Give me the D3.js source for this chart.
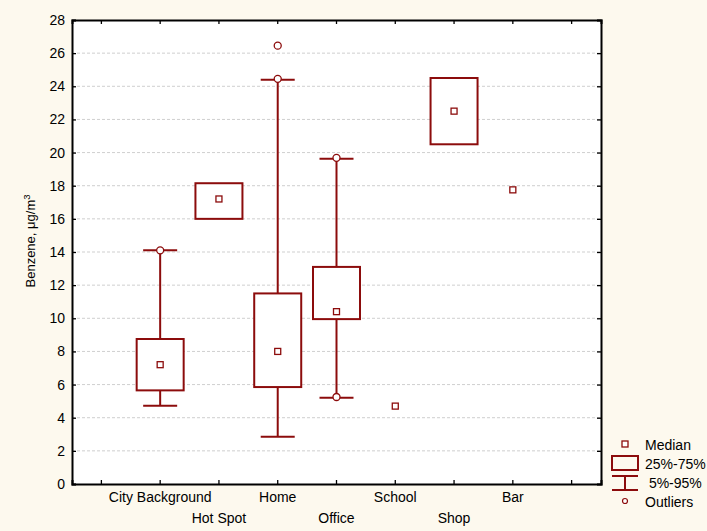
<!DOCTYPE html>
<html>
<head>
<meta charset="utf-8">
<script src="https://cdn.jsdelivr.net/npm/d3@7"></script>
<style>
  body { margin: 0; background: #fdf9ee; }
  text { font-family: "Liberation Sans", Arial, sans-serif; fill: #000; }
</style>
</head>
<body>
<svg id="chart" width="707" height="531"></svg>
<script>
// values
var categories = ["City Background", "Hot Spot", "Home", "Office", "School", "Shop", "Bar"];
var medians = [7.2, 17.2, 8.0, 10.4, 4.7, 22.5, 17.75];
var q25 = [5.65, 16.0, 5.85, 9.95, null, 20.5, null];
var q75 = [8.75, 18.15, 11.5, 13.1, null, 24.5, null];
var p05 = [4.72, null, 2.85, 5.2, null, null, null];
var p95 = [14.1, null, 24.4, 19.62, null, null, null];
var outliers = [[14.1], [], [26.45, 24.45], [19.68, 5.25], [], [], []];
var yTicks = [0, 2, 4, 6, 8, 10, 12, 14, 16, 18, 20, 22, 24, 26, 28];
var legendItems = ["Median", "25%-75%", " 5%-95%", "Outliers"];

var red = "#8c0c0c";
var margin = { top: 20, right: 106, bottom: 47, left: 72 },
  width = 707 - margin.left - margin.right,
  height = 531 - margin.top - margin.bottom;

var svg = d3.select("#chart");
var g = svg.append("g").attr("transform", "translate(" + margin.left + "," + margin.top + ")");

g.append("rect").attr("width", width).attr("height", height).attr("fill", "#fff");

// 9 slots: empty one on each side of the categories
var x = d3.scaleBand().domain(d3.range(categories.length + 2)).range([0, width]);
var y = d3.scaleLinear().domain([0, 28]).range([height, 0]);
function cx(i) { return x(i + 1) + x.bandwidth() / 2; }

// grid
g.selectAll(".grid").data(yTicks.slice(1, -1)).enter().append("line")
  .attr("x1", 0).attr("x2", width)
  .attr("y1", function(d) { return y(d); }).attr("y2", function(d) { return y(d); })
  .attr("stroke", "#cfcfcf").attr("stroke-dasharray", "3,2");

// axes, ticks inside
var yAxis = g.append("g").call(d3.axisLeft(y).tickValues(yTicks).tickSize(-4).tickPadding(7));
yAxis.selectAll("text").style("font-size", "14px");
g.append("g").attr("transform", "translate(" + width + ",0)")
  .call(d3.axisRight(y).tickValues(yTicks).tickSize(-4).tickFormat(""));
var xAxis = g.append("g").attr("transform", "translate(0," + height + ")")
  .call(d3.axisBottom(x).tickSize(-4).tickFormat(function(d) { return (d >= 1 && d <= categories.length) ? categories[d - 1] : ""; }));
xAxis.selectAll("text").style("font-size", "14px")
  .attr("dy", function(d) { return (d % 2 === 0) ? "2.2em" : "0.72em"; })
  .attr("y", 8);
g.append("g").call(d3.axisTop(x).tickSize(-4).tickFormat(""));
g.selectAll(".domain").attr("stroke", "#000").attr("stroke-width", 2);
g.selectAll(".tick line").attr("stroke", "#000").attr("stroke-width", 1.3);

// whiskers
var capW = 34, boxW = 47;
categories.forEach(function(c, i) {
  if (p05[i] === null) return;
  var lo = q25[i] !== null ? q25[i] : medians[i];
  var hi = q75[i] !== null ? q75[i] : medians[i];
  g.append("line").attr("x1", cx(i)).attr("x2", cx(i)).attr("y1", y(p05[i])).attr("y2", y(lo))
    .attr("stroke", red).attr("stroke-width", 2);
  g.append("line").attr("x1", cx(i)).attr("x2", cx(i)).attr("y1", y(p95[i])).attr("y2", y(hi))
    .attr("stroke", red).attr("stroke-width", 2);
  [p05[i], p95[i]].forEach(function(v) {
    g.append("line").attr("x1", cx(i) - capW / 2).attr("x2", cx(i) + capW / 2)
      .attr("y1", y(v)).attr("y2", y(v)).attr("stroke", red).attr("stroke-width", 2);
  });
});

// boxes
categories.forEach(function(c, i) {
  if (q25[i] === null) return;
  g.append("rect").attr("x", cx(i) - boxW / 2).attr("y", y(q75[i]))
    .attr("width", boxW).attr("height", y(q25[i]) - y(q75[i]))
    .attr("fill", "#fff").attr("stroke", red).attr("stroke-width", 2);
});

// medians
g.selectAll(".med").data(medians).enter().append("rect")
  .attr("x", function(d, i) { return cx(i) - 3; })
  .attr("y", function(d) { return y(d) - 3; })
  .attr("width", 6).attr("height", 6)
  .attr("fill", "#fff").attr("stroke", red).attr("stroke-width", 1.3);

// outliers
categories.forEach(function(c, i) {
  outliers[i].forEach(function(v) {
    g.append("circle").attr("cx", cx(i)).attr("cy", y(v)).attr("r", 3.5)
      .attr("fill", "#fff").attr("stroke", red).attr("stroke-width", 1.3);
  });
});

// y label
svg.append("text")
  .attr("transform", "translate(35,241) rotate(-90)")
  .attr("text-anchor", "middle")
  .style("font-size", "13px")
  .text("Benzene, μg/m")
  .append("tspan").attr("dy", "-0.55em").style("font-size", "9.5px").text("3");

// legend
var lg = svg.append("g").attr("transform", "translate(625,0)");
lg.append("rect").attr("x", -3).attr("y", 441).attr("width", 6).attr("height", 6)
  .attr("fill", "#fff").attr("stroke", red).attr("stroke-width", 1.3);
lg.append("rect").attr("x", -13).attr("y", 456).attr("width", 26).attr("height", 14)
  .attr("fill", "none").attr("stroke", red).attr("stroke-width", 2);
lg.append("line").attr("x1", -13).attr("x2", 13).attr("y1", 476).attr("y2", 476).attr("stroke", red).attr("stroke-width", 2);
lg.append("line").attr("x1", -13).attr("x2", 13).attr("y1", 490).attr("y2", 490).attr("stroke", red).attr("stroke-width", 2);
lg.append("line").attr("x1", 0).attr("x2", 0).attr("y1", 476).attr("y2", 490).attr("stroke", red).attr("stroke-width", 2);
lg.append("circle").attr("cx", 0).attr("cy", 501).attr("r", 2.5)
  .attr("fill", "#fff").attr("stroke", red).attr("stroke-width", 1.2);
var ly = [445, 464, 483, 502];
lg.selectAll(".lt").data(legendItems).enter().append("text")
  .attr("x", 20).attr("y", function(d, i) { return ly[i]; })
  .attr("dy", "0.35em").style("font-size", "14px")
  .style("white-space", "pre")
  .text(function(d) { return d; });
</script>
</body>
</html>
